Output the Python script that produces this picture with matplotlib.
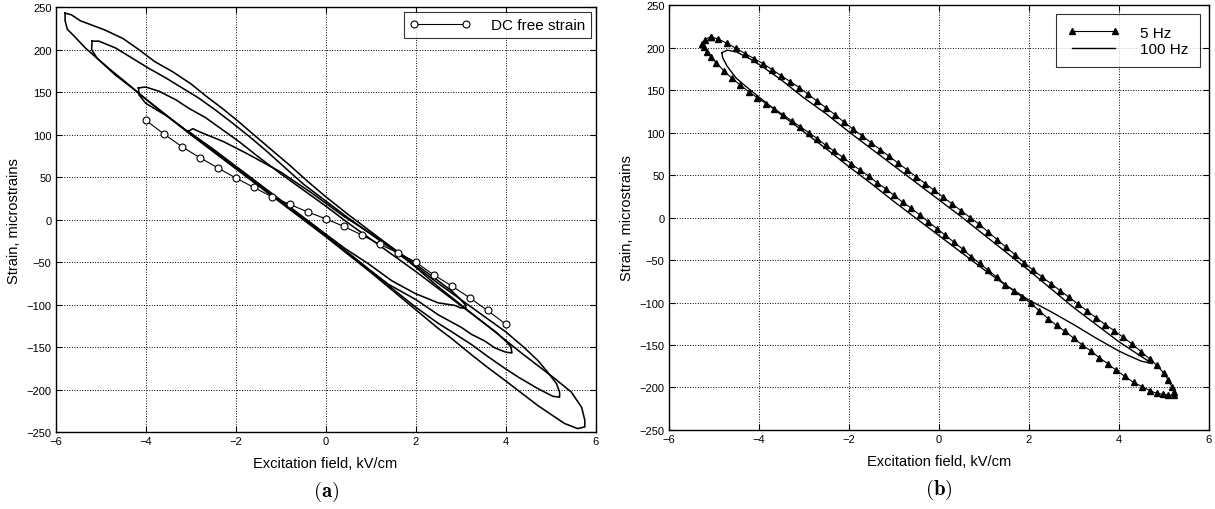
import numpy as np
import matplotlib
matplotlib.use("Agg")
import matplotlib.pyplot as plt

plt.rcParams['font.family'] = ['Liberation Sans', 'DejaVu Sans']
plt.rcParams['mathtext.fontset'] = 'cm'

# Curva DC (pontos medidos)
dc_field = [-4.0, -3.6, -3.2, -2.8, -2.4, -2.0, -1.6, -1.2, -0.8, -0.4, 0.0,
            0.4, 0.8, 1.2, 1.6, 2.0, 2.4, 2.8, 3.2, 3.6, 4.0]
dc_strain = [117, 101, 86, 73, 61, 49, 38, 27, 18, 9, 1,
             -8, -18, -29, -39, -50, -65, -78, -92, -107, -123]

# Laços de histerese (a): ramo superior seguido do ramo inferior
loop_a_x = [-5.79, -5.65, -5.45, -5.20, -4.90, -4.50, -4.15, -3.80, -3.40, -3.00,
            -2.65, -2.30, -1.95, -1.60, -1.20, -0.80, -0.40, 0.00, 0.50, 1.00,
            1.50, 2.00, 2.50, 3.00, 3.50, 4.00, 4.35, 4.72, 5.09, 5.46,
            5.69, 5.76, 5.76,
            5.60, 5.31, 5.00, 4.72, 4.30, 3.98, 3.60, 3.24, 2.80, 2.50,
            2.00, 1.50, 1.00, 0.50, 0.00, -0.50, -1.00, -1.50, -2.00, -2.50,
            -3.00, -3.50, -3.93, -4.30, -4.67, -5.04, -5.34, -5.59, -5.74, -5.79,
            -5.79]
loop_a_y = [243, 241, 234, 229, 223, 213, 200, 186, 174, 160,
            145, 131, 116, 100, 82, 64, 45, 27, 6, -14,
            -34, -56, -79, -100, -121, -142, -157, -172, -187, -203,
            -221, -236, -244,
            -246, -240, -229, -219, -202, -189, -174, -159, -140, -128,
            -106, -84, -62, -41, -20, 0, 20, 40, 60, 80,
            100, 121, 139, 155, 170, 188, 202, 216, 224, 234,
            243]

loop_b_x = [-5.19, -5.04, -4.67, -4.30, -3.93, -3.56, -3.19, -2.82, -2.45, -2.08,
            -1.70, -1.30, -0.90, -0.50, 0.00, 0.50, 1.00, 1.50, 2.00, 2.50,
            3.00, 3.50, 4.00, 4.40, 4.72, 4.94, 5.13, 5.20, 5.20,
            5.05, 4.72, 4.30, 3.98, 3.60, 3.24, 2.80, 2.50, 2.00, 1.50,
            1.00, 0.50, 0.00, -0.50, -1.00, -1.50, -2.00, -2.50, -3.00, -3.50,
            -4.00, -4.45, -4.82, -5.08, -5.20, -5.19]
loop_b_y = [210, 210, 202, 190, 178, 167, 155, 143, 129, 114,
            98, 80, 61, 42, 22, 2, -17, -36, -55, -75,
            -94, -113, -132, -150, -166, -180, -193, -203, -209,
            -208, -199, -186, -175, -161, -147, -132, -122, -103, -82,
            -61, -40, -19, 1, 21, 41, 61, 81, 101, 121,
            142, 162, 178, 190, 200, 210]

loop_c_x = [-4.16, -4.00, -3.70, -3.33, -3.04, -2.67, -2.30, -1.93, -1.50, -1.00,
            -0.50, 0.00, 0.50, 1.00, 1.50, 2.00, 2.50, 3.00, 3.50, 3.80,
            4.00, 4.12, 4.14,
            4.00, 3.76, 3.54, 3.24, 3.02, 2.50, 2.28, 2.00, 1.39, 1.00,
            0.50, 0.00, -0.50, -1.00, -1.50, -2.00, -2.50, -3.00, -3.50, -4.00,
            -4.15, -4.16]
loop_c_y = [155, 156, 151, 141, 131, 120, 106, 92, 74, 54,
            35, 16, -4, -23, -42, -61, -81, -101, -121, -133,
            -143, -150, -157,
            -156, -151, -143, -135, -127, -112, -104, -94, -76, -60,
            -39, -19, 1, 21, 41, 61, 81, 101, 121, 137,
            147, 155]

loop_d_x = [-3.05, -2.95, -2.79, -2.28, -1.76, -1.00, -0.30, 0.40, 1.20, 1.80,
            2.40, 2.80, 3.00, 3.10, 3.12,
            3.00, 2.87, 2.50, 1.99, 1.47, 0.95, 0.43, 0.00, -0.50, -1.00,
            -1.50, -2.00, -2.50, -2.90, -3.05]
loop_d_y = [104, 107, 103, 92, 78, 56, 31, 4, -23, -45,
            -68, -84, -94, -100, -104,
            -104, -101, -98, -87, -72, -52, -34, -17, 3, 23,
            43, 63, 83, 98, 104]

# Laço a 5 Hz (b)
hz5_x = [-5.07, -4.90, -4.70, -4.50, -4.30, -4.10, -3.90, -3.70, -3.50, -3.30,
         -3.10, -2.90, -2.70, -2.50, -2.30, -2.10, -1.90, -1.70, -1.50, -1.30,
         -1.10, -0.90, -0.70, -0.50, -0.30, -0.10, 0.10, 0.30, 0.50, 0.70,
         0.90, 1.10, 1.30, 1.50, 1.70, 1.90, 2.10, 2.30, 2.50, 2.70,
         2.90, 3.10, 3.30, 3.50, 3.70, 3.90, 4.10, 4.30, 4.50, 4.70,
         4.85, 5.00, 5.10, 5.18, 5.24, 5.22,
         5.10, 4.98, 4.85, 4.70, 4.52, 4.33, 4.14, 3.95, 3.76, 3.57,
         3.38, 3.19, 3.00, 2.81, 2.62, 2.43, 2.24, 2.05, 1.86, 1.67,
         1.48, 1.29, 1.10, 0.91, 0.72, 0.53, 0.34, 0.15, -0.04, -0.23,
         -0.42, -0.61, -0.80, -0.99, -1.18, -1.37, -1.56, -1.75, -1.94, -2.13,
         -2.32, -2.51, -2.70, -2.89, -3.08, -3.27, -3.46, -3.65, -3.84, -4.03,
         -4.22, -4.41, -4.60, -4.78, -4.94, -5.06, -5.15, -5.22, -5.26, -5.20,
         -5.07]
hz5_y = [213, 210, 205, 199, 193, 187, 181, 174, 167, 160,
         153, 145, 137, 129, 121, 112, 104, 96, 88, 80,
         72, 64, 56, 48, 40, 32, 24, 16, 8, 0,
         -8, -17, -26, -35, -44, -53, -62, -70, -78, -86,
         -94, -102, -110, -118, -126, -133, -141, -149, -158, -167,
         -174, -183, -191, -199, -205, -209,
         -209, -208, -207, -204, -199, -194, -187, -180, -172, -165,
         -157, -150, -142, -134, -127, -119, -110, -101, -94, -86,
         -79, -70, -62, -54, -46, -37, -29, -21, -13, -5,
         3, 11, 18, 26, 34, 41, 49, 56, 63, 71,
         78, 85, 93, 100, 107, 114, 121, 128, 134, 141,
         148, 156, 164, 173, 182, 189, 195, 201, 204, 209,
         213]

# Laço a 100 Hz (b)
hz100_x = [-4.82, -4.70, -4.50, -4.20, -3.90, -3.50, -3.00, -2.50, -2.00, -1.50,
           -1.00, -0.50, 0.00, 0.50, 1.00, 1.50, 2.00, 2.50, 3.00, 3.50,
           4.00, 4.40, 4.75,
           4.50, 4.20, 4.00, 3.50, 3.00, 2.50, 2.00, 1.50, 1.00, 0.50,
           0.00, -0.50, -1.00, -1.50, -2.00, -2.50, -3.00, -3.50, -4.00, -4.30,
           -4.50, -4.70, -4.80, -4.82]
hz100_y = [194, 197, 195, 187, 177, 162, 141, 122, 101, 81,
           61, 41, 21, 1, -20, -41, -62, -84, -106, -126,
           -146, -160, -172,
           -169, -162, -157, -142, -126, -111, -97, -80, -61, -41,
           -21, -1, 19, 40, 60, 81, 101, 121, 142, 155,
           164, 178, 188, 194]

x_ticks = [-6, -4, -2, 0, 2, 4, 6]
y_ticks = [-250, -200, -150, -100, -50, 0, 50, 100, 150, 200, 250]


def style_axes(ax):
    """
    Estilo tipo MATLAB: grade pontilhada e ticks para dentro
    """
    ax.set_xlim(-6, 6)
    ax.set_ylim(-250, 250)
    ax.set_xticks(x_ticks)
    ax.set_yticks(y_ticks)
    ax.grid(True, linestyle=':', color='black', linewidth=0.7)
    ax.tick_params(direction='in', top=True, right=True, length=4,
                   labelsize=8, pad=3, width=0.8)
    for spine in ax.spines.values():
        spine.set_linewidth(1.0)
    ax.set_xlabel("Excitation field, kV/cm", fontsize=10.5, labelpad=7)
    ax.set_ylabel("Strain, microstrains", fontsize=10.5, labelpad=4)


def main():

    fig = plt.figure(figsize=(12.15, 5.1), dpi=100)

    ax1 = fig.add_axes([0.0458, 0.151, 0.4444, 0.833])
    ax2 = fig.add_axes([0.5504, 0.155, 0.4444, 0.833])

    # Painel (a)
    for lx, ly in [(loop_a_x, loop_a_y), (loop_b_x, loop_b_y),
                   (loop_c_x, loop_c_y), (loop_d_x, loop_d_y)]:
        ax1.plot(lx, ly, color='black', linewidth=1.15)

    ax1.plot(dc_field, dc_strain, color='black', linewidth=0.8,
             marker='o', markersize=5, markerfacecolor='white',
             markeredgewidth=0.8, label="DC free strain")

    style_axes(ax1)
    leg1 = ax1.legend(loc='upper right', numpoints=2, fontsize=11,
                      frameon=True, fancybox=False, edgecolor='black',
                      borderaxespad=0.3, handlelength=4.0, handletextpad=1.3)
    leg1.get_frame().set_linewidth(0.8)

    # Painel (b)
    ax2.plot(hz5_x, hz5_y, color='black', linewidth=0.8,
             marker='^', markersize=5, label="5 Hz")
    ax2.plot(hz100_x, hz100_y, color='black', linewidth=1.0,
             label="100 Hz")

    style_axes(ax2)
    leg2 = ax2.legend(loc='upper right', numpoints=2, fontsize=11,
                      frameon=True, fancybox=False, edgecolor='black',
                      borderaxespad=0.6, borderpad=0.75, handlelength=3.4,
                      handletextpad=1.3, labelspacing=0.15)
    leg2.get_frame().set_linewidth(0.8)

    # Rótulos dos painéis
    fig.text(0.0458 + 0.4444 / 2, 0.035, r'$(\mathbf{a})$', ha='center',
             va='center', fontsize=15)
    fig.text(0.5504 + 0.4444 / 2, 0.04, r'$(\mathbf{b})$', ha='center',
             va='center', fontsize=15)

    fig.savefig("out.png", dpi=100)


if __name__ == "__main__":
    main()
